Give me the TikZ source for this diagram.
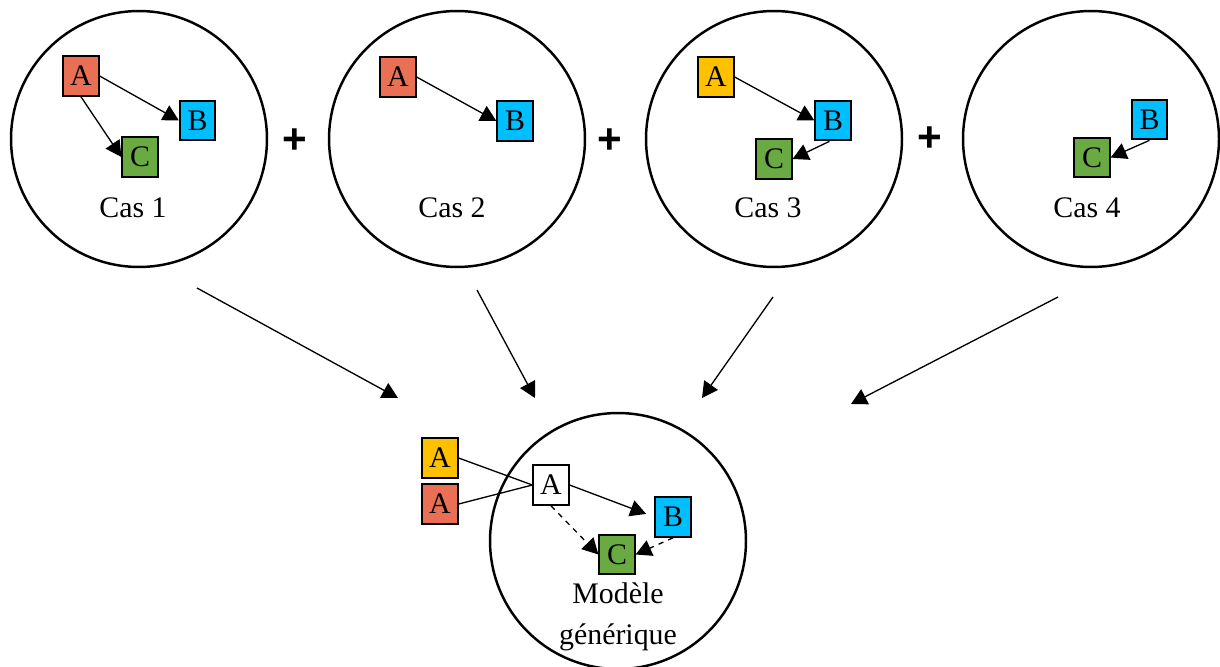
\documentclass[tikz,border=0pt]{standalone}
\usepackage{fontspec}
\setmainfont{Liberation Serif}
\newfontfamily\plusfont{Liberation Sans}
\usetikzlibrary{arrows.meta}
\definecolor{cred}{HTML}{E97055}
\definecolor{cyellow}{HTML}{FFC000}
\definecolor{cblue}{HTML}{00BFFF}
\definecolor{cgreen}{HTML}{6AAA42}
\tikzset{
  px/.style={x=0.02cm,y=-0.02cm},
  bigcircle/.style={draw,line width=1.4pt,circle,minimum size=5.12cm,inner sep=0pt},
  box/.style={draw,line width=1.2pt,minimum width=20pt,minimum height=22.5pt,inner sep=0pt,font=\fontsize{17}{20}\selectfont},
  lbl/.style={font=\fontsize{17}{21}\selectfont,align=center},
  plussign/.style={font=\plusfont\bfseries\fontsize{24}{24}\selectfont},
  link/.style={line width=0.75pt},
  arr/.style={line width=0.75pt,-{Triangle[length=9pt,width=9.5pt]}},
  darr/.style={line width=0.75pt,dashed,-{Triangle[length=9pt,width=9.5pt]}}
}
\begin{document}
\begin{tikzpicture}[px]
\useasboundingbox (0,0) rectangle (1220,666);
% circles
\node[bigcircle] (k1) at (139,139) {};
\node[bigcircle] (k2) at (457,139) {};
\node[bigcircle] (k3) at (774,139) {};
\node[bigcircle] (k4) at (1091,139) {};
\node[bigcircle] (k5) at (618,541) {};
% plus signs
\node[plussign] (p1) at (295,141) {+};
\node[plussign] (p2) at (610,141) {+};
\node[plussign] (p3) at (930,139) {+};
% Cas 1
\node[box,fill=cred] (A1) at (81,76) {A};
\node[box,fill=cblue] (B1) at (197.5,120.5) {B};
\node[box,fill=cgreen] (C1) at (140,157) {C};
\node[lbl] (L1) at (133,208) {Cas 1};
\draw[arr] (A1.east) -- (B1.west);
\draw[arr] (A1.south) -- (C1.west);
% Cas 2
\node[box,fill=cred] (A2) at (398,77) {A};
\node[box,fill=cblue] (B2) at (515,121) {B};
\node[lbl] (L2) at (452,208) {Cas 2};
\draw[arr] (A2.east) -- (B2.west);
% Cas 3
\node[box,fill=cyellow] (A3) at (716,77) {A};
\node[box,fill=cblue] (B3) at (833,120.5) {B};
\node[box,fill=cgreen] (C3) at (774,159) {C};
\node[lbl] (L3) at (768,208) {Cas 3};
\draw[arr] (A3.east) -- (B3.west);
\draw[arr] ([xshift=-2pt]B3.south) -- (C3.east);
% Cas 4
\node[box,fill=cblue] (B4) at (1149.5,119.5) {B};
\node[box,fill=cgreen] (C4) at (1092,157.5) {C};
\node[lbl] (L4) at (1087,208) {Cas 4};
\draw[arr] (B4.south) -- (C4.east);
% big arrows
\coordinate (s1) at (197,288);
\coordinate (t1) at (398,398);
\coordinate (s2) at (477,290);
\coordinate (t2) at (535,398);
\coordinate (s3) at (773,297);
\coordinate (t3) at (702,398);
\coordinate (s4) at (1058,297);
\coordinate (t4) at (851,404);
\draw[arr] (s1) -- (t1);
\draw[arr] (s2) -- (t2);
\draw[arr] (s3) -- (t3);
\draw[arr] (s4) -- (t4);
% generic model
\node[box,fill=cyellow] (AY) at (440,458) {A};
\node[box,fill=cred] (AR) at (440,504) {A};
\node[box,fill=white] (AW) at (551,485) {A};
\node[box,fill=cblue] (B5) at (673,517) {B};
\node[box,fill=cgreen] (C5) at (617,554.5) {C};
\node[lbl] (L5) at (618,617) {Modèle\\[2pt]générique};
\draw[link] (AY.east) -- (AW.west);
\draw[link] (AR.east) -- (AW.west);
\draw[arr,shorten >=5pt] (AW.east) -- (B5.west);
\draw[darr] (AW.south) -- (C5.west);
\draw[darr] (B5.south) -- (C5.east);
\end{tikzpicture}
\end{document}
